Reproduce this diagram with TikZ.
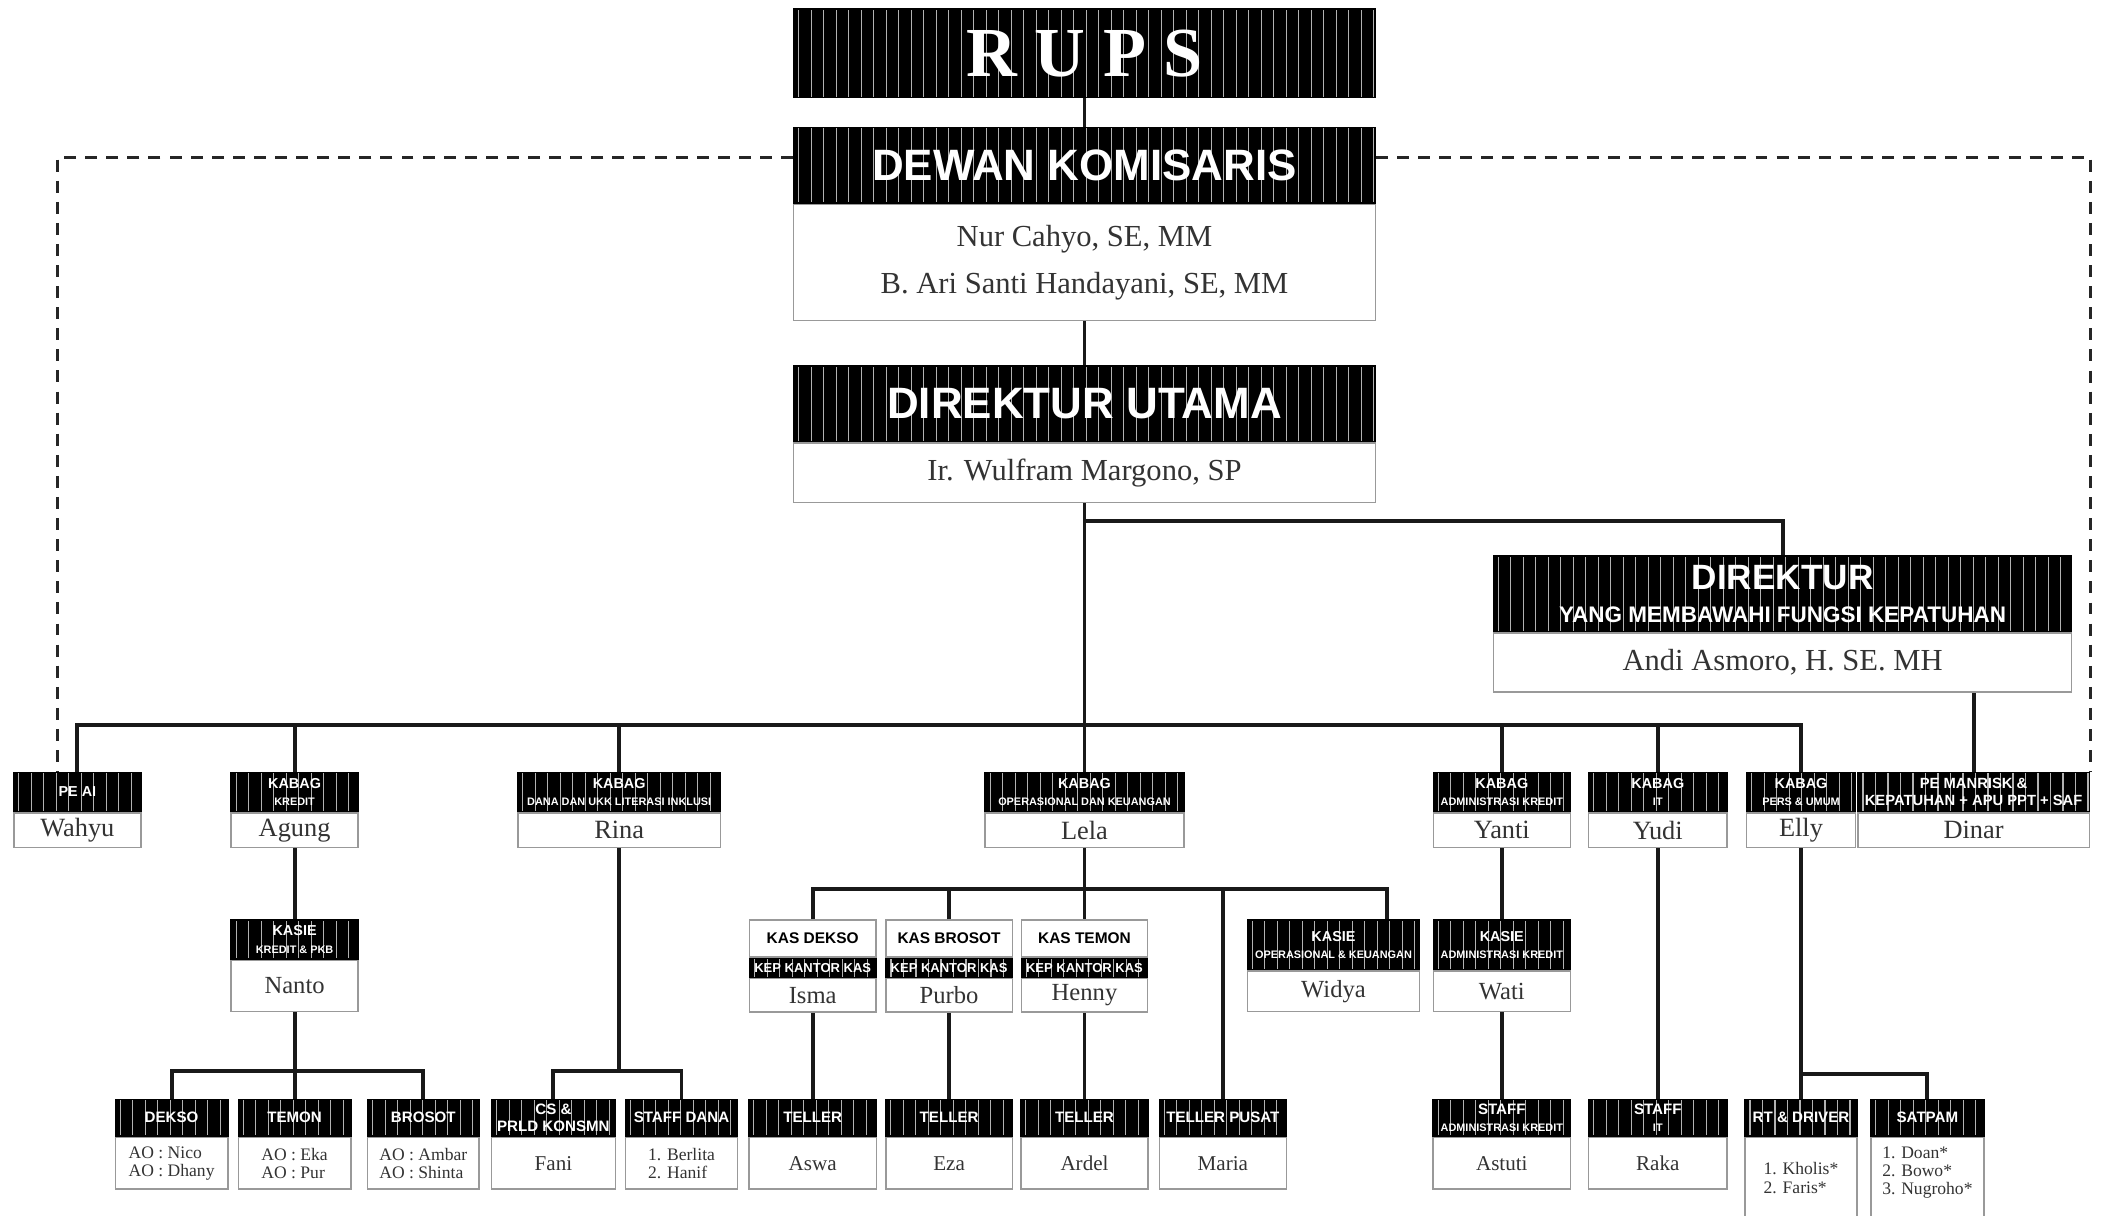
\documentclass[tikz,border=0pt]{standalone}
\usepackage{fontspec}
\setmainfont{Liberation Serif}
\setsansfont{Liberation Sans}
\newcommand{\fsz}[1]{\fontsize{#1}{#1}\selectfont}
\newcommand{\subl}[1]{{\fontsize{3.1}{3.1}\selectfont #1}}

\begin{document}
\begin{tikzpicture}[
    link/.style={line width=1.1pt, black!90},
    dashlink/.style={line width=1pt, dash pattern=on 3.4pt off 2.6pt, black!85},
    stripes/.style={path picture={
        \foreach \k in {0,...,62}
            \draw[white!70!black, line width=0.3pt]
                ([xshift=\k*1.25mm+0.5mm]path picture bounding box.south west) --
                ([xshift=\k*1.25mm+0.5mm]path picture bounding box.north west);}},
    titlebar/.style={draw=black, fill=black, stripes, text=white, inner sep=0pt, align=center, anchor=north},
    bar1/.style={titlebar, minimum height=0.389cm, font=\sffamily\bfseries\fontsize{4.1}{5}\selectfont},
    bar3/.style={titlebar, minimum height=0.369cm, font=\sffamily\bfseries\fontsize{4.3}{5}\selectfont},
    namebox/.style={draw=black!40, fill=white, text=black!80, inner sep=0pt, align=center, anchor=north},
    name1/.style={namebox, minimum height=0.349cm, font=\fsz{7.5}},
    name2/.style={namebox, minimum height=0.510cm, font=\fsz{7}},
    name3/.style={namebox, minimum height=0.515cm, font=\fsz{6}},
    aolist/.style={namebox, minimum height=0.515cm, align=left, font=\fontsize{5}{5.2}\selectfont},
    kashead/.style={draw=black!40, fill=white, minimum height=0.369cm, inner sep=0pt, anchor=north, font=\sffamily\bfseries\fsz{4.4}},
    kasband/.style={titlebar, minimum height=0.188cm, font=\sffamily\bfseries\fsz{3.7}},
]
    \clip (0,0) rectangle (21.04,12.16);

    \node[titlebar, minimum width=5.815cm, minimum height=0.886cm, font=\bfseries\fsz{20}] (rups) at (10.845,12.076) {R U P S};
    \node[titlebar, minimum width=5.815cm, minimum height=0.751cm, font=\sffamily\bfseries\fsz{12.5}] (dk-t) at (10.845,10.889) {DEWAN KOMISARIS};
    \node[namebox, minimum width=5.815cm, minimum height=1.163cm, font=\fontsize{8.7}{13.3}\selectfont] (dk) at (dk-t.south) {Nur Cahyo, SE, MM\\B. Ari Santi Handayani, SE, MM};
    \node[titlebar, minimum width=5.815cm, minimum height=0.757cm, font=\sffamily\bfseries\fsz{12.5}] (du-t) at (10.845,8.507) {DIREKTUR UTAMA};
    \node[namebox, minimum width=5.815cm, minimum height=0.593cm, font=\fsz{8.7}] (du) at (du-t.south) {Ir. Wulfram Margono, SP};
    \node[titlebar, minimum width=5.783cm, minimum height=0.757cm, font=\sffamily\bfseries\fontsize{10}{9.2}\selectfont] (dir-t) at (17.826,6.606) {DIREKTUR\\{\fsz{6.4}YANG MEMBAWAHI FUNGSI KEPATUHAN}};
    \node[namebox, minimum width=5.783cm, minimum height=0.590cm, font=\fsz{8.7}] (dir) at (dir-t.south) {Andi Asmoro, H. SE. MH};

    \node[bar1, minimum width=1.272cm] (wahyu-t) at (0.774,4.441) {PE AI};
    \node[name1, minimum width=1.272cm] (wahyu) at (wahyu-t.south) {Wahyu};
    \node[bar1, minimum width=1.271cm] (agung-t) at (2.946,4.441) {KABAG\\\subl{KREDIT}};
    \node[name1, minimum width=1.271cm] (agung) at (agung-t.south) {Agung};
    \node[bar1, minimum width=2.026cm] (rina-t) at (6.192,4.441) {KABAG\\\subl{DANA DAN UKK LITERASI INKLUSI}};
    \node[name1, minimum width=2.026cm] (rina) at (rina-t.south) {Rina};
    \node[bar1, minimum width=1.987cm] (lela-t) at (10.845,4.441) {KABAG\\\subl{OPERASIONAL DAN KEUANGAN}};
    \node[name1, minimum width=1.987cm] (lela) at (lela-t.south) {Lela};
    \node[bar1, minimum width=1.369cm] (yanti-t) at (15.018,4.441) {KABAG\\\subl{ADMINISTRASI KREDIT}};
    \node[name1, minimum width=1.369cm] (yanti) at (yanti-t.south) {Yanti};
    \node[bar1, minimum width=1.382cm] (yudi-t) at (16.578,4.441) {KABAG\\\subl{IT}};
    \node[name1, minimum width=1.382cm] (yudi) at (yudi-t.south) {Yudi};
    \node[bar1, minimum width=1.087cm] (elly-t) at (18.01,4.441) {KABAG\\\subl{PERS \& UMUM}};
    \node[name1, minimum width=1.087cm] (elly) at (elly-t.south) {Elly};
    \node[bar1, minimum width=2.312cm, font=\sffamily\bfseries\fontsize{4.2}{5}\selectfont] (dinar-t) at (19.736,4.441) {PE MANRISK \&\\KEPATUHAN + APU PPT + SAF};
    \node[name1, minimum width=2.312cm] (dinar) at (dinar-t.south) {Dinar};

    \node[bar1, minimum width=1.271cm] (nanto-t) at (2.946,2.965) {KASIE\\\subl{KREDIT \& PKB}};
    \node[name2, minimum width=1.271cm] (nanto) at (nanto-t.south) {Nanto};
    \node[kashead, minimum width=1.262cm] (isma-t) at (8.127,2.965) {KAS DEKSO};
    \node[kasband, minimum width=1.262cm] (isma-b) at (isma-t.south) {KEP KANTOR KAS};
    \node[name2, minimum width=1.262cm, minimum height=0.335cm] (isma) at (isma-b.south) {Isma};
    \node[kashead, minimum width=1.262cm] (purbo-t) at (9.491,2.965) {KAS BROSOT};
    \node[kasband, minimum width=1.262cm] (purbo-b) at (purbo-t.south) {KEP KANTOR KAS};
    \node[name2, minimum width=1.262cm, minimum height=0.335cm] (purbo) at (purbo-b.south) {Purbo};
    \node[kashead, minimum width=1.262cm] (henny-t) at (10.845,2.965) {KAS TEMON};
    \node[kasband, minimum width=1.262cm] (henny-b) at (henny-t.south) {KEP KANTOR KAS};
    \node[name2, minimum width=1.262cm, minimum height=0.335cm] (henny) at (henny-b.south) {Henny};
    \node[bar1, minimum width=1.723cm, minimum height=0.496cm] (widya-t) at (13.335,2.965) {KASIE\\\subl{OPERASIONAL \& KEUANGAN}};
    \node[name2, minimum width=1.723cm, minimum height=0.403cm] (widya) at (widya-t.south) {Widya};
    \node[bar1, minimum width=1.369cm, minimum height=0.496cm] (wati-t) at (15.018,2.965) {KASIE\\\subl{ADMINISTRASI KREDIT}};
    \node[name2, minimum width=1.369cm, minimum height=0.403cm] (wati) at (wati-t.south) {Wati};

    \node[bar3, minimum width=1.126cm] (dekso-t) at (1.716,1.174) {DEKSO};
    \node[aolist, minimum width=1.126cm] (dekso) at (dekso-t.south) {AO : Nico\\AO : Dhany};
    \node[bar3, minimum width=1.127cm] (temon-t) at (2.946,1.174) {TEMON};
    \node[aolist, minimum width=1.127cm] (temon) at (temon-t.south) {AO : Eka\\AO : Pur};
    \node[bar3, minimum width=1.114cm] (brosot-t) at (4.233,1.174) {BROSOT};
    \node[aolist, minimum width=1.114cm] (brosot) at (brosot-t.south) {AO : Ambar\\AO : Shinta};
    \node[bar3, minimum width=1.236cm] (fani-t) at (5.534,1.174) {CS \&\\PRLD KONSMN};
    \node[name3, minimum width=1.236cm] (fani) at (fani-t.south) {Fani};
    \node[bar3, minimum width=1.119cm] (dana-t) at (6.815,1.174) {STAFF DANA};
    \node[aolist, minimum width=1.119cm] (dana) at (dana-t.south) {1. Berlita\\2. Hanif};
    \node[bar3, minimum width=1.275cm] (aswa-t) at (8.127,1.174) {TELLER};
    \node[name3, minimum width=1.275cm] (aswa) at (aswa-t.south) {Aswa};
    \node[bar3, minimum width=1.264cm] (eza-t) at (9.491,1.174) {TELLER};
    \node[name3, minimum width=1.264cm] (eza) at (eza-t.south) {Eza};
    \node[bar3, minimum width=1.271cm] (ardel-t) at (10.845,1.174) {TELLER};
    \node[name3, minimum width=1.271cm] (ardel) at (ardel-t.south) {Ardel};
    \node[bar3, minimum width=1.271cm] (maria-t) at (12.229,1.174) {TELLER PUSAT};
    \node[name3, minimum width=1.271cm] (maria) at (maria-t.south) {Maria};
    \node[bar3, minimum width=1.374cm] (astuti-t) at (15.018,1.174) {STAFF\\\subl{ADMINISTRASI KREDIT}};
    \node[name3, minimum width=1.374cm] (astuti) at (astuti-t.south) {Astuti};
    \node[bar3, minimum width=1.382cm] (raka-t) at (16.578,1.174) {STAFF\\\subl{IT}};
    \node[name3, minimum width=1.382cm] (raka) at (raka-t.south) {Raka};
    \node[bar3, minimum width=1.120cm] (rt-t) at (18.01,1.174) {RT \& DRIVER};
    \node[aolist, minimum width=1.120cm, minimum height=1.0cm, text depth=5.5pt] (rt) at (rt-t.south) {1. Kholis*\\2. Faris*};
    \node[bar3, minimum width=1.132cm] (satpam-t) at (19.274,1.174) {SATPAM};
    \node[aolist, minimum width=1.132cm, minimum height=1.0cm, text depth=9.5pt] (satpam) at (satpam-t.south) {1. Doan*\\2. Bowo*\\3. Nugroho*};

    \coordinate (fork) at (10.845,6.951);
    \coordinate (bus) at (10.845,4.911);
    \coordinate (dashl) at (0.573,10.587);
    \coordinate (dashr) at (20.905,10.587);
    \coordinate (nantobus) at (2.946,1.449);
    \coordinate (rinabus) at (6.192,1.449);
    \coordinate (lelabus) at (10.845,3.274);
    \coordinate (widyain) at (13.873,2.965);
    \coordinate (ellybus) at (18.01,1.422);

    \draw[link] (rups) -- (dk-t);
    \draw[link] (dk) -- (du-t);
    \draw[link] (du) -- (lela-t);
    \draw[link] (fork) -| (dir-t);
    \draw[link] (dinar-t) -- (dinar-t |- dir.south);
    \draw[link] (wahyu-t) |- (bus) -| (elly-t);
    \foreach \n in {agung,rina,yanti,yudi}
        \draw[link] (\n-t) -- (\n-t |- bus);
    \draw[dashlink] (dk-t.west |- dashl) -- (dashl) -- (dashl |- wahyu-t.north);
    \draw[dashlink] (dk-t.east |- dashr) -- (dashr) -- (dashr |- dinar-t.north);

    \draw[link] (agung) -- (nanto-t);
    \draw[link] (nanto) -- (temon-t);
    \draw[link] (dekso-t) |- (nantobus) -| (brosot-t);
    \draw[link] (rina) -- (rinabus);
    \draw[link] (fani-t) |- (rinabus) -| (dana-t);
    \draw[link] (lela) -- (henny-t);
    \draw[link] (isma-t) |- (lelabus) -| (widyain);
    \foreach \n in {purbo,maria}
        \draw[link] (\n-t) -- (\n-t |- lelabus);
    \foreach \n/\m in {isma/aswa,purbo/eza,henny/ardel}
        \draw[link] (\n) -- (\m-t);
    \draw[link] (yanti) -- (wati-t);
    \draw[link] (wati) -- (astuti-t);
    \draw[link] (yudi) -- (raka-t);
    \draw[link] (elly) -- (rt-t);
    \draw[link] (ellybus) -| (satpam-t);
\end{tikzpicture}
\end{document}
